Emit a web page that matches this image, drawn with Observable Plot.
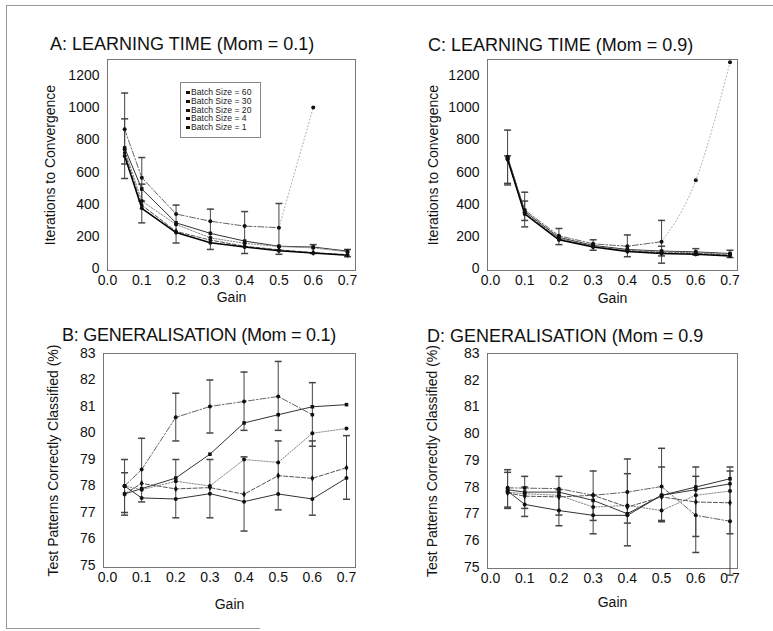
<!DOCTYPE html>
<html><head><meta charset="utf-8">
<script src="https://cdn.jsdelivr.net/npm/d3@7"></script>
<script src="https://cdn.jsdelivr.net/npm/@observablehq/plot@0.6"></script>
<style>
body{margin:0;background:#fff;font-family:"Liberation Sans",Arial,sans-serif;}
#wrap{position:relative;width:773px;height:631px;overflow:hidden;background:#fff}
.panel{position:absolute}
.title{position:absolute;font-size:18px;line-height:15px;white-space:nowrap;color:#111}
.bline{position:absolute;background:#999}
#legend{position:absolute;left:180px;top:82px;width:81px;height:56px;border:1px solid #888;background:#fff;font-size:8.6px;line-height:8.8px;padding-top:5px;box-sizing:border-box;color:#222}
#legend div{white-space:nowrap;padding-left:5px;height:8.8px}
#legend span{display:inline-block;width:4px;height:3px;background:#111;margin-right:1px;vertical-align:1px}
</style></head><body><div id="wrap"></div><script>
// ---- data ----
const gains = [0.05, 0.1, 0.2, 0.3, 0.4, 0.5, 0.6, 0.7];
const batchSizes = [60, 30, 20, 4, 1];
const xTicks = [0, 0.1, 0.2, 0.3, 0.4, 0.5, 0.6, 0.7];
const learnTicks = [0, 200, 400, 600, 800, 1000, 1200];
const genTicks = [75, 76, 77, 78, 79, 80, 81, 82, 83];
const titles = ["A: LEARNING TIME (Mom = 0.1)", "B: GENERALISATION (Mom = 0.1)", "C: LEARNING TIME (Mom = 0.9)", "D: GENERALISATION (Mom = 0.9"];
const learnLabel = "Iterations to Convergence";
const genLabel = "Test Patterns Correctly Classified (%)";
const gainLabel = "Gain";
// gain from which the batch-60 run was drawn as a faint dotted (diverging) curve
const divergeFrom = 0.5;

// Panel A: learning time, momentum 0.1
const learnA_60 = [865, 565, 340, 295, 265, 255, 1000, null];
const learnA_30 = [750, 495, 285, 220, 172, 140, 135, 110];
const learnA_20 = [740, 420, 275, 192, 158, 138, 130, 105];
const learnA_4  = [720, 395, 232, 178, 140, 118, 100, 88];
const learnA_1  = [700, 375, 225, 162, 135, 112, 98, 84];
const errA = [[0.05,560,1090],[0.05,650,930],[0.1,285,690],[0.1,420,525],[0.2,160,395],[0.3,120,370],[0.4,95,355],[0.5,90,405],[0.6,95,150],[0.7,75,120]];

// Panel C: learning time, momentum 0.9
const learnC_60 = [690, 365, 205, 155, 140, 168, 549, 1281];
const learnC_30 = [695, 355, 195, 145, 120, 110, 105, 95];
const learnC_20 = [685, 350, 190, 140, 115, 105, 100, 90];
const learnC_4  = [680, 345, 185, 138, 112, 100, 95, 85];
const learnC_1  = [678, 340, 180, 135, 108, 95, 90, 80];
const errC = [[0.05,530,860],[0.05,520,700],[0.1,260,475],[0.1,300,420],[0.2,150,250],[0.3,115,180],[0.4,75,210],[0.5,35,300],[0.5,80,140],[0.6,85,125],[0.7,70,115]];

// Panel B: generalisation, momentum 0.1
const genB_60 = [78.0, 78.62, 80.59, 81.0, 81.19, 81.38, 80.69, null];
const genB_30 = [77.7, 77.9, 78.3, 79.2, 80.38, 80.69, 80.99, 81.07];
const genB_20 = [78.0, 77.86, 78.18, 78.0, 79.0, 78.89, 79.99, 80.17];
const genB_4  = [77.7, 78.1, 77.89, 77.94, 77.69, 78.39, 78.29, 78.69];
const genB_1  = [78.0, 77.55, 77.51, 77.71, 77.41, 77.7, 77.51, 78.3];
const errB = [[0.05,76.9,79.0],[0.05,77.0,78.5],[0.1,77.4,79.8],[0.2,79.7,81.5],[0.2,76.8,79.0],[0.3,80.0,82.0],[0.3,76.8,79.0],[0.4,80.1,82.3],[0.4,76.3,79.1],[0.5,80.1,82.7],[0.5,77.1,79.7],[0.6,79.5,81.9],[0.6,76.9,79.7],[0.7,77.5,79.9]];

// Panel D: generalisation, momentum 0.9
const genD_60 = [77.97, 77.96, 77.94, 77.69, 77.81, 78.02, 76.94, 76.72];
const genD_30 = [77.9, 77.81, 77.81, 77.5, 77.0, 77.69, 78.0, 78.31];
const genD_20 = [77.81, 77.75, 77.69, 77.25, 77.31, 77.12, 77.69, 77.85];
const genD_4  = [77.78, 77.66, 77.63, 77.69, 77.25, 77.63, 77.44, 77.41];
const genD_1  = [77.85, 77.35, 77.12, 76.94, 76.94, 77.69, 77.9, 78.12];
const errD = [[0.05,77.2,78.65],[0.05,77.25,78.55],[0.1,76.9,78.4],[0.1,77.2,78.0],[0.2,76.55,78.4],[0.2,76.95,77.9],[0.3,76.25,78.6],[0.3,76.75,77.7],[0.4,75.8,79.05],[0.4,76.65,78.5],[0.5,76.7,79.45],[0.5,76.75,78.75],[0.6,75.55,78.75],[0.6,76.15,78.4],[0.7,74.7,78.75],[0.7,76.25,78.6]];

// ---- styles ----
function lineStyles(kind) {
  return [
    {stroke: "#666", strokeDasharray: "6,2,1.5,2", strokeWidth: 1},
    {stroke: "#333", strokeWidth: 1},
    {stroke: "#888", strokeDasharray: "1.5,1.5", strokeWidth: 1},
    {stroke: "#555", strokeDasharray: "4,2", strokeWidth: 1},
    {stroke: kind === "learn" ? "#000" : "#333", strokeWidth: kind === "learn" ? 1.5 : 1}
  ];
}
const dotSymbols = ["circle", "square", "circle", "diamond", "circle"];
const capSymbol = {draw(ctx, size) { const r = Math.sqrt(size / Math.PI); ctx.moveTo(-r, 0); ctx.lineTo(r, 0); }};

const wrap = document.getElementById("wrap");

function makePanel(cfg) {
  const styles = lineStyles(cfg.kind);
  const rows = cfg.series.map((vals, i) => gains.map((g, j) => ({gain: g, value: vals[j], batch: batchSizes[i]})).filter(d => d.value != null));
  const lineMarks = rows.map((r, i) => {
    if (cfg.diverge && i === 0) {
      return [
        Plot.line(r.filter(d => d.gain <= divergeFrom), {x: "gain", y: "value", ...styles[i]}),
        Plot.line(r.filter(d => d.gain >= divergeFrom), {x: "gain", y: "value", curve: "monotone-x", stroke: "#aaa", strokeDasharray: "1,2.5", strokeWidth: 1})
      ];
    }
    return [Plot.line(r, {x: "gain", y: "value", ...styles[i]})];
  }).flat();
  const marks = [
    Plot.frame({stroke: "#777"}),
    Plot.ruleX(cfg.errs, {x: d => d[0], y1: d => d[1], y2: d => d[2], stroke: "#444", strokeWidth: 1}),
    Plot.dot(cfg.errs, {x: d => d[0], y: d => d[1], symbol: capSymbol, r: 3.5, stroke: "#444", fill: "none"}),
    Plot.dot(cfg.errs, {x: d => d[0], y: d => d[2], symbol: capSymbol, r: 3.5, stroke: "#444", fill: "none"}),
    ...lineMarks,
    ...rows.map((r, i) => Plot.dot(r, {x: "gain", y: "value", r: 2, fill: "#111", symbol: dotSymbols[i]}))
  ];
  const svg = Plot.plot({
    width: cfg.width, height: cfg.height,
    marginLeft: cfg.ml, marginRight: cfg.mr, marginTop: cfg.mt, marginBottom: cfg.mb,
    x: {domain: cfg.xDomain, ticks: xTicks, tickFormat: d3.format(".1f"), tickSize: 0, tickPadding: 5,
        label: gainLabel, labelAnchor: "center", labelOffset: cfg.xlo, labelArrow: "none"},
    y: {domain: cfg.yDomain, ticks: cfg.yTicks, tickFormat: d => String(d), tickSize: 0, tickPadding: 8,
        label: cfg.yLabel, labelAnchor: "center", labelOffset: cfg.ylo, labelArrow: "none"},
    style: {fontFamily: "'Liberation Sans', Arial, sans-serif", fontSize: "14px", color: "#111", background: "transparent", overflow: "visible"},
    marks
  });
  svg.classList.add("panel");
  svg.style.left = cfg.left + "px";
  svg.style.top = cfg.top + "px";
  wrap.appendChild(svg);
}

makePanel({kind: "learn", diverge: true, series: [learnA_60, learnA_30, learnA_20, learnA_4, learnA_1], errs: errA,
  left: 0, top: 50, width: 370, height: 260, ml: 107, mr: 15, mt: 9, mb: 40,
  xDomain: [0, 0.7233], yDomain: [-10.5, 1298], yTicks: learnTicks, yLabel: learnLabel, ylo: 62, xlo: 31});
makePanel({kind: "learn", diverge: true, series: [learnC_60, learnC_30, learnC_20, learnC_4, learnC_1], errs: errC,
  left: 380, top: 50, width: 375, height: 260, ml: 107, mr: 18, mt: 9, mb: 40,
  xDomain: [-0.0087, 0.7219], yDomain: [-10.5, 1298], yTicks: learnTicks, yLabel: learnLabel, ylo: 59, xlo: 32});
makePanel({kind: "gen", series: [genB_60, genB_30, genB_20, genB_4, genB_1], errs: errB,
  left: 0, top: 340, width: 370, height: 270, ml: 103, mr: 15, mt: 13, mb: 43,
  xDomain: [-0.0117, 0.7264], yDomain: [74.925, 83], yTicks: genTicks, yLabel: genLabel, ylo: 55, xlo: 41});
makePanel({kind: "gen", series: [genD_60, genD_30, genD_20, genD_4, genD_1], errs: errD,
  left: 380, top: 340, width: 375, height: 270, ml: 107, mr: 18, mt: 13, mb: 42,
  xDomain: [-0.00875, 0.7219], yDomain: [74.95, 83], yTicks: genTicks, yLabel: genLabel, ylo: 60, xlo: 38});

// titles
const titlePos = [[50, 37], [62, 328], [428, 37.5], [427, 329]];
titles.forEach((t, i) => {
  const d = document.createElement("div");
  d.className = "title";
  d.textContent = t;
  d.style.left = titlePos[i][0] + "px";
  d.style.top = titlePos[i][1] + "px";
  if (i === 1) d.style.letterSpacing = "-0.25px";
  wrap.appendChild(d);
});

// legend (panel A)
const leg = document.createElement("div");
leg.id = "legend";
batchSizes.forEach(b => {
  const row = document.createElement("div");
  const m = document.createElement("span");
  row.appendChild(m);
  row.appendChild(document.createTextNode("Batch Size = " + b));
  leg.appendChild(row);
});
wrap.appendChild(leg);

// outer border of the figure
[[6, 5, 767, 1], [6, 5, 1, 624], [6, 628, 254, 1]].forEach(([l, t, w, h]) => {
  const d = document.createElement("div");
  d.className = "bline";
  Object.assign(d.style, {left: l + "px", top: t + "px", width: w + "px", height: h + "px"});
  wrap.appendChild(d);
});
</script></body></html>
